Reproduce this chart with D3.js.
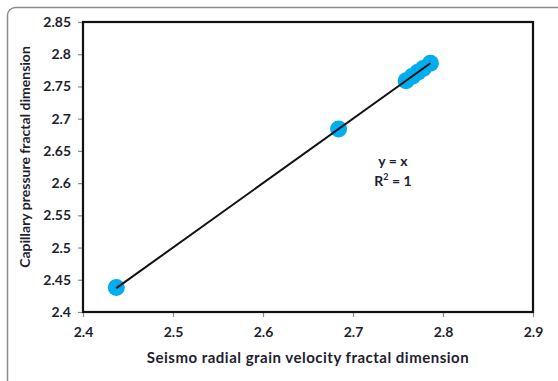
<!DOCTYPE html>
<html>
<head>
<meta charset="utf-8">
<script src="https://cdn.jsdelivr.net/npm/d3@7"></script>
<style>
  html, body { margin: 0; padding: 0; background: #fff; }
  svg { display: block; }
  text { font-family: Lato, "Open Sans", sans-serif; font-weight: bold; fill: #1e1e2e; }
</style>
</head>
<body>
<div id="chart"></div>
<script>
// Fractal dimensions: seismo radial grain velocity (x) vs capillary pressure (y)
const seismoDim = [2.437, 2.684, 2.759, 2.766, 2.772, 2.778, 2.786];
const capillaryDim = [2.438, 2.684, 2.759, 2.766, 2.772, 2.778, 2.786];
const xTicks = [2.4, 2.5, 2.6, 2.7, 2.8, 2.9];
const yTicks = [2.4, 2.45, 2.5, 2.55, 2.6, 2.65, 2.7, 2.75, 2.8, 2.85];
const fitLabel = ["y = x", "R² = 1"];

const W = 558, H = 381;
const m = { left: 83, top: 22, right: 25, bottom: 69 };

const svg = d3.select("#chart").append("svg").attr("width", W).attr("height", H);

// outer rounded frame
svg.append("rect")
  .attr("x", 7.5).attr("y", 7.5).attr("width", 600).attr("height", 420)
  .attr("rx", 8).attr("fill", "none").attr("stroke", "#8c8c8c").attr("stroke-width", 1.5);

const x = d3.scaleLinear().domain([2.4, 2.9]).range([m.left, W - m.right]);
const y = d3.scaleLinear().domain([2.4, 2.85]).range([H - m.bottom, m.top]);

// axes with outward gray ticks
const xAxis = svg.append("g").attr("transform", `translate(0,${H - m.bottom})`)
  .call(d3.axisBottom(x).tickValues(xTicks).tickFormat(d3.format("~g")).tickSize(5).tickPadding(10));
const yAxis = svg.append("g").attr("transform", `translate(${m.left},0)`)
  .call(d3.axisLeft(y).tickValues(yTicks).tickFormat(d3.format("~g")).tickSize(5).tickPadding(7));
[xAxis, yAxis].forEach(g => {
  g.select(".domain").remove();
  g.selectAll(".tick line").attr("stroke", "#8c8c8c").attr("stroke-width", 1.2);
  g.selectAll(".tick text").style("font-size", "14px").style("font-family", "Lato, sans-serif")
    .style("font-weight", "bold").attr("fill", "#1e1e2e");
});

// plot-area border
svg.append("rect")
  .attr("x", x(2.4)).attr("y", y(2.85))
  .attr("width", x(2.9) - x(2.4)).attr("height", y(2.4) - y(2.85))
  .attr("fill", "none").attr("stroke", "#111").attr("stroke-width", 2.2);

// data points
const pts = seismoDim.map((v, i) => [v, capillaryDim[i]]);
svg.append("g").selectAll("circle").data(pts).join("circle")
  .attr("cx", d => x(d[0])).attr("cy", d => y(d[1])).attr("r", 8.5)
  .attr("fill", "#00adef");

// linear fit y = x across the data range
const xMin = d3.min(seismoDim), xMax = d3.max(seismoDim);
svg.append("line")
  .attr("x1", x(xMin)).attr("y1", y(xMin))
  .attr("x2", x(xMax)).attr("y2", y(xMax))
  .attr("stroke", "#111").attr("stroke-width", 2);

// fit equation
svg.append("text").attr("x", 393).attr("y", 166)
  .attr("text-anchor", "middle").style("font-size", "14px")
  .text(fitLabel[0]);
const r2 = svg.append("text").attr("x", 393).attr("y", 186)
  .attr("text-anchor", "middle").style("font-size", "14px");
r2.append("tspan").text("R");
r2.append("tspan").attr("dy", -6).style("font-size", "9px").text("2");
r2.append("tspan").attr("dy", 6).text(" = 1");

// axis titles
svg.append("text").attr("x", 308).attr("y", 363)
  .attr("text-anchor", "middle").style("font-size", "15px").style("letter-spacing", "0.5px")
  .text("Seismo radial grain velocity fractal dimension");
svg.append("text")
  .attr("transform", `translate(30,157) rotate(-90)`)
  .attr("text-anchor", "middle").style("font-size", "14px")
  .text("Capillary pressure fractal dimension");
</script>
</body>
</html>
